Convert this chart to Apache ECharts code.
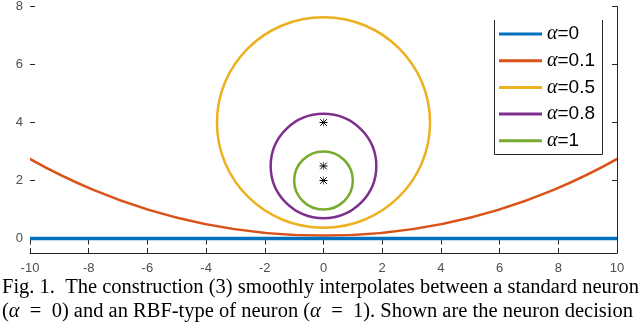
<!DOCTYPE html>
<html>
<head>
    <meta charset="utf-8">
    <title>ECharts</title>
    <script src="https://cdn.jsdelivr.net/npm/echarts@6/dist/echarts.min.js"></script>
    <style>
        html, body { margin: 0; padding: 0; background: #fff; }
    </style>
</head>
<body>
    <div id="main" style="width:640px;height:334px;"></div>
    <script type="text/javascript">
        // data
        var names = ['α=0', 'α=0.1', 'α=0.5', 'α=0.8', 'α=1'];
        var colors = ['#0072BD', '#D95319', '#EDB120', '#7E2F8E', '#77AC30'];
        // alpha = 0 : straight line
        var lineX = [-10, 10];
        var lineY = [0, 0];
        // alpha > 0 : decision boundaries are circles (center x, center y, radius)
        var circleCX = [0, 0, 0, 0];
        var circleCY = [20.3, 4.0, 2.5, 2.0];
        var circleR = [20.2, 3.63, 1.8, 1.0];
        // centres marked with *
        var starX = [0, 0, 0];
        var starY = [4, 2.5, 2];
        var yTicks = [0, 2, 4, 6, 8];

        var myChart = echarts.init(document.getElementById('main'));

        var axisColor = '#262626';
        var series = [];

        series.push({
            name: names[0],
            type: 'line',
            data: lineX.map(function (x, i) { return [x, lineY[i]]; }),
            showSymbol: false,
            lineStyle: { color: colors[0], width: 3.5 },
            itemStyle: { color: colors[0] },
            z: 3
        });

        for (var i = 0; i < circleR.length; i++) {
            (function (k) {
                series.push({
                    name: names[k + 1],
                    type: 'custom',
                    clip: true,
                    data: [[circleCX[k], circleCY[k], circleR[k]]],
                    itemStyle: { color: colors[k + 1] },
                    renderItem: function (params, api) {
                        var c = api.coord([api.value(0), api.value(1)]);
                        var s = api.size([api.value(2), api.value(2)]);
                        return {
                            type: 'ellipse',
                            shape: { cx: c[0], cy: c[1], rx: s[0], ry: s[1] },
                            style: { fill: 'none', stroke: colors[k + 1], lineWidth: 2.5 }
                        };
                    },
                    z: 2
                });
            })(i);
        }

        series.push({
            name: 'centres',
            type: 'custom',
            data: starX.map(function (x, i) { return [x, starY[i]]; }),
            renderItem: function (params, api) {
                var c = api.coord([api.value(0), api.value(1)]);
                var st = { stroke: '#000', lineWidth: 1 };
                var a = 4, d = 3.3;
                return {
                    type: 'group',
                    children: [
                        { type: 'line', shape: { x1: c[0] - a, y1: c[1], x2: c[0] + a, y2: c[1] }, style: st },
                        { type: 'line', shape: { x1: c[0] - d, y1: c[1] - d, x2: c[0] + d, y2: c[1] + d }, style: st },
                        { type: 'line', shape: { x1: c[0] - d, y1: c[1] + d, x2: c[0] + d, y2: c[1] - d }, style: st },
                        { type: 'line', shape: { x1: c[0], y1: c[1] - a, x2: c[0], y2: c[1] + a }, style: { stroke: '#000', lineWidth: 0.6 } }
                    ]
                };
            },
            z: 5
        });

        var legendData = names.map(function (n, i) {
            return { name: n, icon: 'rect', itemStyle: { color: colors[i] } };
        });

        var option = {
            animation: false,
            backgroundColor: '#fff',
            grid: { left: 30, right: 23, top: 5, bottom: 81, containLabel: false },
            legend: {
                data: legendData,
                orient: 'vertical',
                left: 494,
                top: 20,
                padding: [4, 6, 4, 5],
                itemWidth: 43,
                itemHeight: 3,
                itemGap: 6.7,
                selectedMode: false,
                formatter: function (n) { return '{a|α}{b|' + n.slice(1) + '}'; },
                textStyle: {
                    color: '#000',
                    fontSize: 19,
                    lineHeight: 20,
                    rich: {
                        a: { fontFamily: 'Liberation Serif', fontStyle: 'italic', fontSize: 20, lineHeight: 20, color: '#000' },
                        b: { fontFamily: 'Liberation Sans', fontSize: 19, lineHeight: 20, color: '#000' }
                    }
                }
            },
            xAxis: [
                {
                    type: 'value', min: -10, max: 10, interval: 2, position: 'bottom',
                    axisLine: { show: true, onZero: false, lineStyle: { color: axisColor, width: 1 } },
                    axisTick: { show: true, inside: true, length: 5, lineStyle: { color: axisColor } },
                    axisLabel: { color: '#4d4d4d', fontFamily: 'Liberation Sans', fontSize: 13, margin: 9 },
                    splitLine: { show: false }
                },
                {
                    type: 'value', min: -10, max: 10, interval: 2, position: 'top',
                    axisLine: { show: false },
                    axisTick: { show: true, inside: true, length: 6, lineStyle: { color: axisColor } },
                    axisLabel: { show: false },
                    splitLine: { show: false }
                }
            ],
            yAxis: [
                {
                    type: 'value', min: -0.5, max: 8, position: 'left',
                    axisLine: { show: false, onZero: false },
                    axisTick: { show: true, inside: true, length: 5, customValues: yTicks, lineStyle: { color: axisColor } },
                    axisLabel: { customValues: yTicks, color: '#4d4d4d', fontFamily: 'Liberation Sans', fontSize: 13, margin: 7 },
                    splitLine: { show: false }
                },
                {
                    type: 'value', min: -0.5, max: 8, position: 'right',
                    axisLine: { show: true, onZero: false, lineStyle: { color: axisColor, width: 1 } },
                    axisTick: { show: true, inside: true, length: 5, customValues: yTicks, lineStyle: { color: axisColor } },
                    axisLabel: { show: false },
                    splitLine: { show: false }
                }
            ],
            series: series,
            graphic: [
                {
                    // legend frame: left, bottom and right sides
                    type: 'polyline',
                    shape: { points: [[494.5, 20], [494.5, 154.5], [602.5, 154.5], [602.5, 20]] },
                    style: { stroke: axisColor, lineWidth: 1, fill: 'none' },
                    z: 10
                },
                {
                    type: 'text', left: 2, top: 277,
                    style: {
                        text: 'Fig. 1.  The construction (3) smoothly interpolates between a standard neuron',
                        fontFamily: 'Liberation Serif', fontSize: 20.5, fill: '#000'
                    }
                },
                {
                    type: 'text', left: 2, top: 301,
                    style: {
                        text: '({i|α}\u2002=\u20020) and an RBF-type of neuron ({i|α}\u2002=\u20021). Shown are the neuron decision',
                        fontFamily: 'Liberation Serif', fontSize: 20.5, fill: '#000',
                        rich: { i: { fontFamily: 'Liberation Serif', fontStyle: 'italic', fontSize: 20.5 } }
                    }
                }
            ]
        };

        myChart.setOption(option);
    </script>
</body>
</html>
